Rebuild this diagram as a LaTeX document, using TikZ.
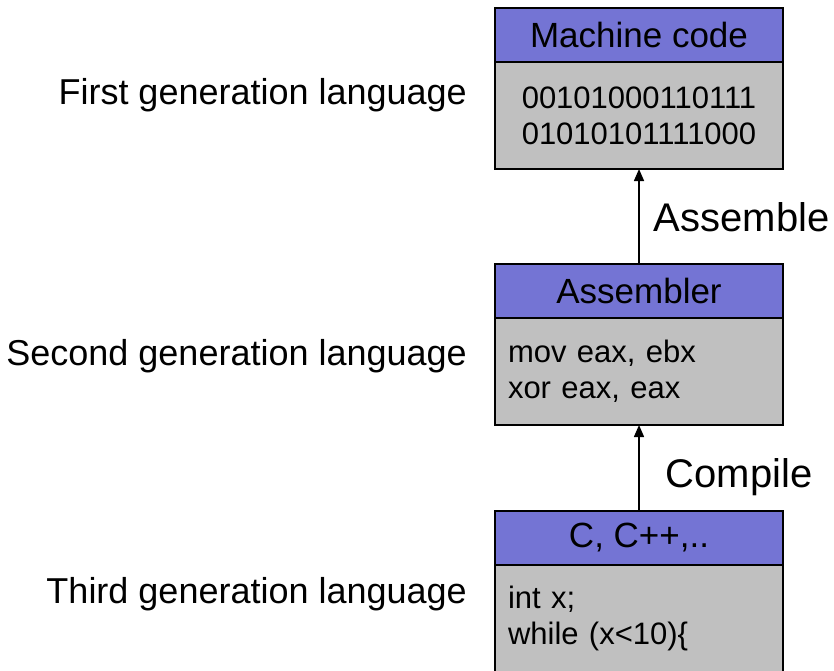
\documentclass[tikz,border=0pt]{standalone}
\usepackage{fontspec}
\setmainfont{Liberation Sans}
\usetikzlibrary{positioning, arrows.meta}
\definecolor{HeadBlue}{HTML}{7474D4}
\definecolor{BodyGray}{HTML}{C0C0C0}

\begin{document}
\begin{tikzpicture}[
      x=1pt, y=1pt,
      head/.style={draw=black, line width=1.5pt, fill=HeadBlue, minimum width=288pt, minimum height=54pt, inner sep=0pt, outer sep=0pt, font=\fontsize{35}{40}\selectfont},
      code/.style={draw=black, line width=1.5pt, fill=BodyGray, text width=262pt, inner xsep=13pt, minimum height=107pt, outer sep=0pt, font=\fontsize{31}{36}\selectfont},
      gen/.style={anchor=base east, inner sep=0pt, font=\fontsize{36}{40}\selectfont},
      flow/.style={-{Triangle[width=10pt,length=12pt]}, line width=1.5pt},
      trans/.style={anchor=base west, inner sep=0pt, font=\fontsize{40}{44}\selectfont}
  ]
    \useasboundingbox (0,0) rectangle (834,-670);
    % boxes
    \node[head](mch) at (639,-35){Machine code};
    \node[code, align=center, below=0pt of mch](mchbody){00101000110111\\01010101111000};
    \node[head](asm) at (639,-291){Assembler};
    \node[code, align=left, below=0pt of asm](asmbody){mov eax, ebx\\xor eax, eax};
    \node[head](hll) at (639,-538){C, C++,..};
    \node[code, align=left, below=0pt of hll](hllbody){int x;\\while (x<10)\{};
    % generation labels
    \node[gen](first) at (467,-104){First generation language};
    \node[gen](second) at (467,-365){Second generation language};
    \node[gen](third) at (467,-603){Third generation language};
    % translation steps
    \draw[flow](asm.north)--(mchbody.south) node[trans, midway, xshift=14pt, yshift=-15pt]{Assemble};
    \draw[flow](hll.north)--(asmbody.south) node[trans, midway, xshift=26pt, yshift=-19pt]{Compile};
  \end{tikzpicture}
\end{document}
